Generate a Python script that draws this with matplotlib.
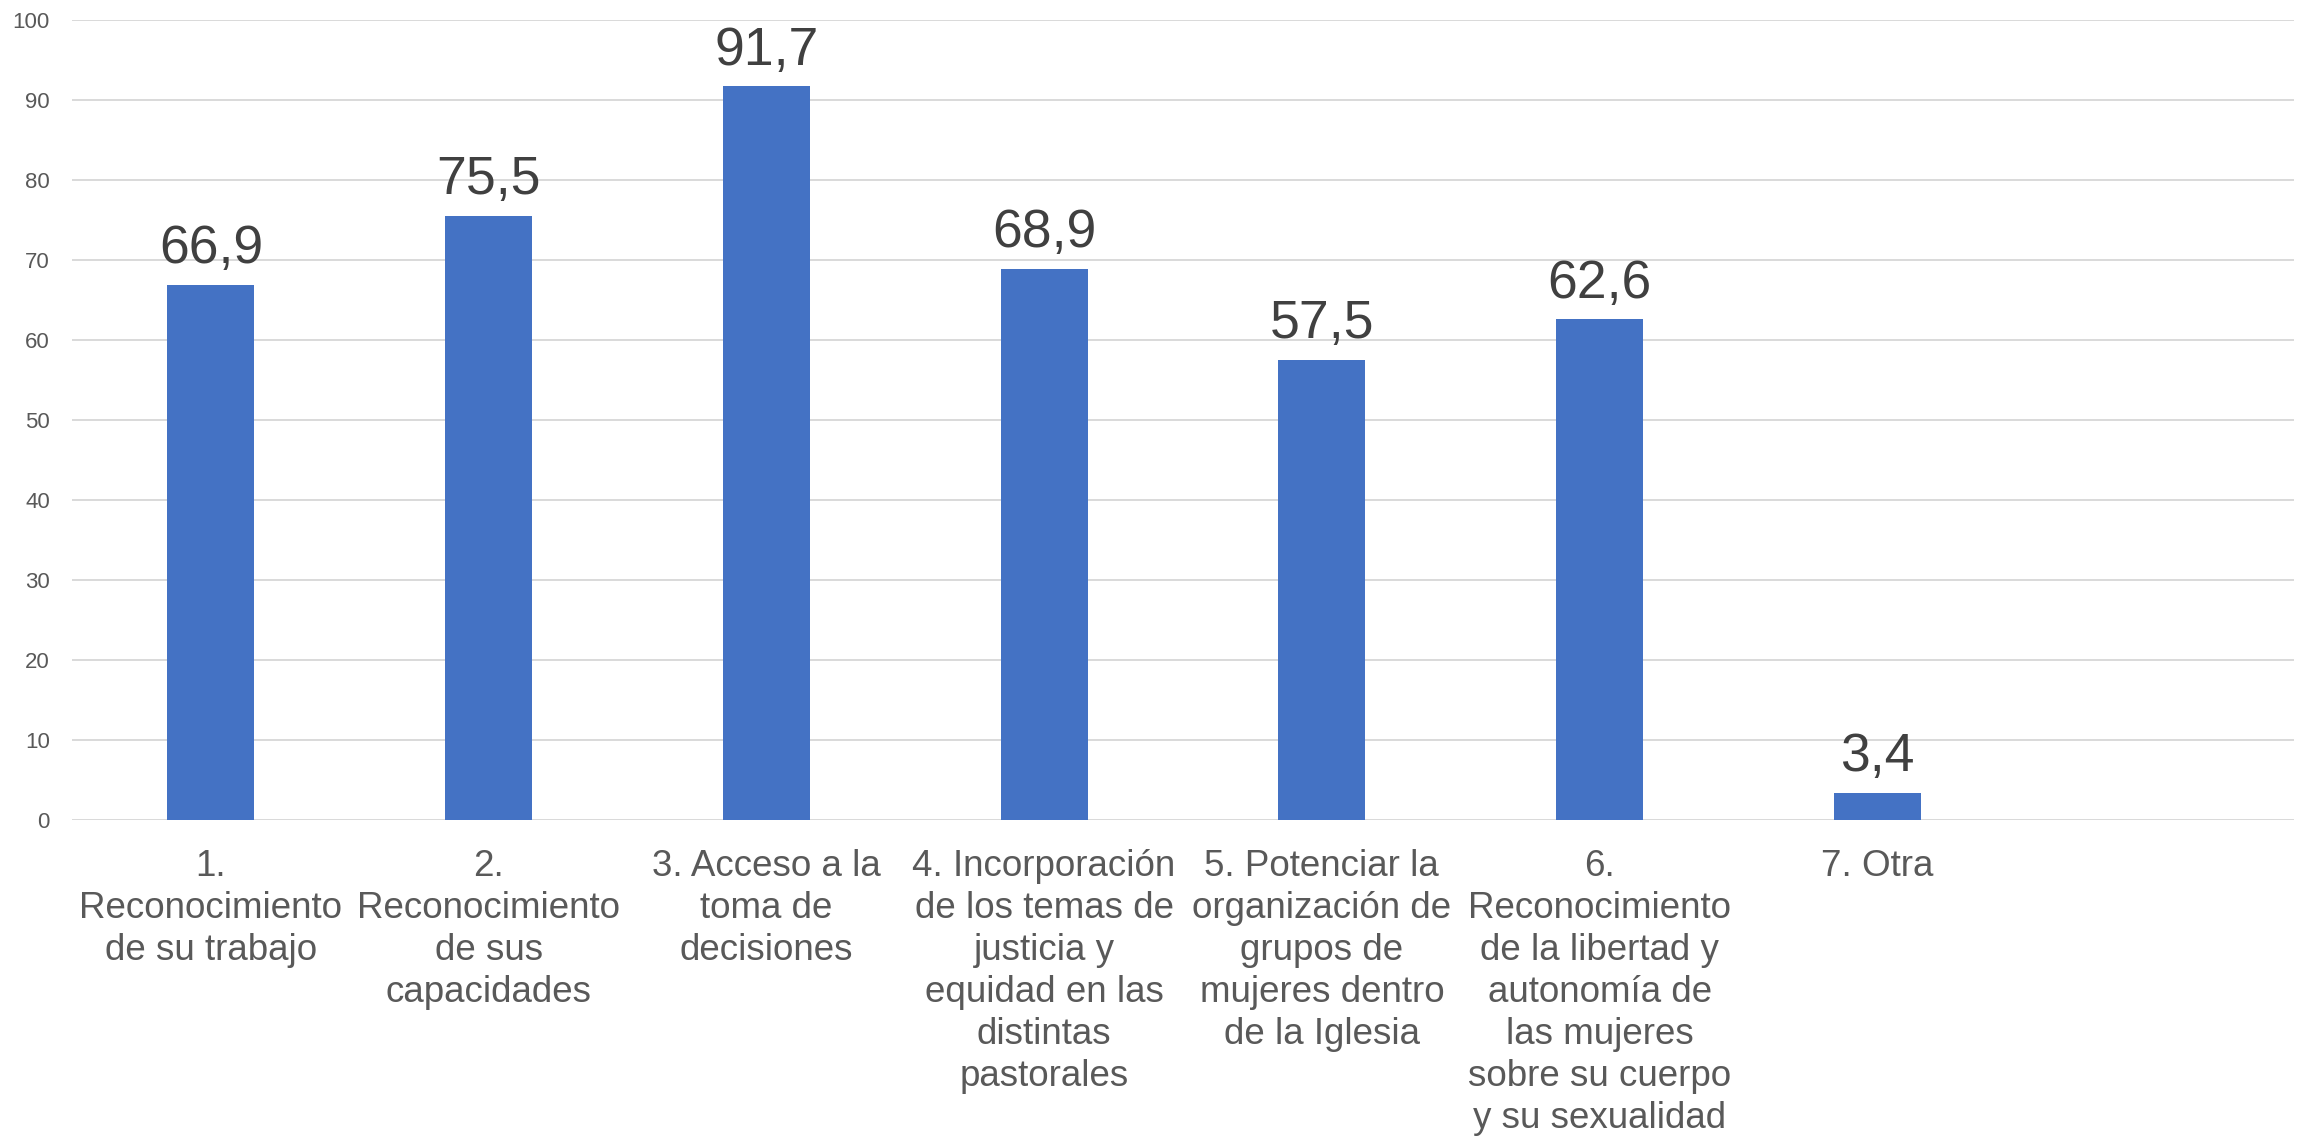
import numpy as np
import matplotlib.pyplot as plt

plt.rcParams['font.family'] = ['Liberation Sans', 'DejaVu Sans']

# datos de la encuesta (porcentaje)
categories = [
    "1.\nReconocimiento\nde su trabajo",
    "2.\nReconocimiento\nde sus\ncapacidades",
    "3. Acceso a la\ntoma de\ndecisiones",
    "4. Incorporación\nde los temas de\njusticia y\nequidad en las\ndistintas\npastorales",
    "5. Potenciar la\norganización de\ngrupos de\nmujeres dentro\nde la Iglesia",
    "6.\nReconocimiento\nde la libertad y\nautonomía de\nlas mujeres\nsobre su cuerpo\ny su sexualidad",
    "7. Otra",
    "",
]
values = [66.9, 75.5, 91.7, 68.9, 57.5, 62.6, 3.4]
yticks = list(range(0, 101, 10))

fig = plt.figure(figsize=(23.05, 11.4), dpi=100)
ax = fig.add_axes([72 / 2305, 1 - 820 / 1140, (2294 - 72) / 2305, 800 / 1140])

x = np.arange(len(values))
bars = ax.bar(x, values, width=0.313, color='#4472C4', zorder=2)

for xi, v in zip(x, values):
    ax.annotate(f"{v:.1f}".replace('.', ','), (xi, v), xytext=(0, 15.5),
                textcoords='offset points', ha='center', va='baseline',
                fontsize=38.5, color='#404040')

ax.set_xlim(-0.5, len(categories) - 0.5)
ax.set_ylim(0, 100)
ax.set_yticks(yticks)
ax.set_xticks(np.arange(len(categories)))
ax.set_xticklabels(categories, fontsize=26.5, color='#595959', linespacing=1.26)
ax.tick_params(axis='x', length=0, pad=21)
ax.tick_params(axis='y', length=0, pad=16, labelsize=16, labelcolor='#595959')

ax.grid(axis='y', color='#D9D9D9', linewidth=1.4, zorder=0)
ax.set_axisbelow(True)
for s in ax.spines.values():
    s.set_visible(False)

fig.savefig('out.png', dpi=100)
